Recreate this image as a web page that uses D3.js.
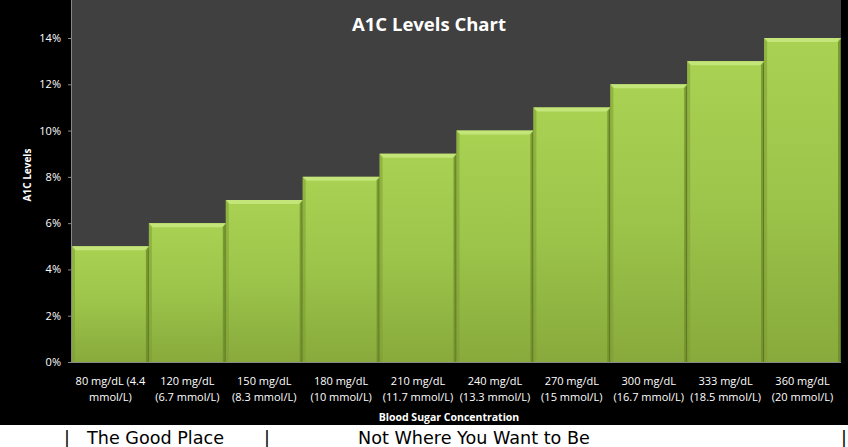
<!DOCTYPE html>
<html><head><meta charset="utf-8">
<script src="https://cdn.jsdelivr.net/npm/d3@7"></script>
<style>html,body{margin:0;padding:0;background:#000;overflow:hidden}svg{display:block}</style>
</head><body>
<script>
const categories = ["80 mg/dL (4.4 mmol/L)","120 mg/dL (6.7 mmol/L)","150 mg/dL (8.3 mmol/L)","180 mg/dL (10 mmol/L)","210 mg/dL (11.7 mmol/L)","240 mg/dL (13.3 mmol/L)","270 mg/dL (15 mmol/L)","300 mg/dL (16.7 mmol/L)","333 mg/dL (18.5 mmol/L)","360 mg/dL (20 mmol/L)"];
const labelLines = [["80 mg/dL (4.4","mmol/L)"],["120 mg/dL","(6.7 mmol/L)"],["150 mg/dL","(8.3 mmol/L)"],["180 mg/dL","(10 mmol/L)"],["210 mg/dL","(11.7 mmol/L)"],["240 mg/dL","(13.3 mmol/L)"],["270 mg/dL","(15 mmol/L)"],["300 mg/dL","(16.7 mmol/L)"],["333 mg/dL","(18.5 mmol/L)"],["360 mg/dL","(20 mmol/L)"]];
const a1cValues = [5, 6, 7, 8, 9, 10, 11, 12, 13, 14];
const yTicks = [0, 2, 4, 6, 8, 10, 12, 14];
const title = "A1C Levels Chart";
const yTitle = "A1C Levels";
const xTitle = "Blood Sugar Concentration";
const footer = [{t:"|",x:64},{t:"The Good Place",x:87},{t:"|",x:264},{t:"Not Where You Want to Be",x:358},{t:"|",x:841}];

const W = 848, H = 447;
const svg = d3.select("body").append("svg").attr("width", W).attr("height", H);
const defs = svg.append("defs");
const g1 = defs.append("linearGradient").attr("id","barG").attr("x1",0).attr("y1",0).attr("x2",0).attr("y2",1);
g1.append("stop").attr("offset","0%").attr("stop-color","#a9d253");
g1.append("stop").attr("offset","50%").attr("stop-color","#9cc44a");
g1.append("stop").attr("offset","100%").attr("stop-color","#88aa3c");

svg.append("rect").attr("width",W).attr("height",H).attr("fill","#000");
svg.append("rect").attr("x",0).attr("y",425).attr("width",W).attr("height",H-425).attr("fill","#fff");

const left = 72, right = 841, bottom = 362;
const x = d3.scaleBand().domain(categories).range([left, right]).padding(0);
const y = d3.scaleLinear().domain([0, 14]).range([bottom, 38]);

svg.append("rect").attr("x",left).attr("y",0).attr("width",right-left).attr("height",bottom).attr("fill","#404040");

// bars
const bars = svg.append("g");
categories.forEach((c,i)=>{
  const bx = x(c), bw = x.bandwidth(), by = y(a1cValues[i]), bh = bottom - by;
  const gg = bars.append("g");
  gg.append("rect").attr("x",bx).attr("y",by).attr("width",bw).attr("height",bh).attr("fill","url(#barG)");
  gg.append("path").attr("d",`M${bx},${by}L${bx+bw},${by}L${bx+bw-4},${by+4}L${bx+4},${by+4}Z`).attr("fill","#c3e57a");
  gg.append("path").attr("d",`M${bx},${by}L${bx+3},${by+4}L${bx+3},${bottom}L${bx},${bottom}Z`).attr("fill","#7d9c33").attr("opacity",0.55);
  gg.append("path").attr("d",`M${bx+bw},${by}L${bx+bw-3},${by+4}L${bx+bw-3},${bottom}L${bx+bw},${bottom}Z`).attr("fill","#6e8c2a").attr("opacity",0.8);
  gg.append("line").attr("x1",bx+bw-0.5).attr("x2",bx+bw-0.5).attr("y1",by+2).attr("y2",bottom).attr("stroke","#5c7722").attr("stroke-width",1);
});

// y axis
const yAxis = svg.append("g").attr("transform",`translate(${left},0)`)
  .call(d3.axisLeft(y).tickValues(yTicks).tickFormat(d=>d+"%").tickSize(4).tickPadding(7));
yAxis.select(".domain").attr("stroke","#888").attr("d",`M-0.5,0V${bottom+0.5}`);
yAxis.selectAll(".tick line").attr("stroke","#888");
yAxis.selectAll("text").attr("fill","#fff").attr("font-family","Open Sans, sans-serif").attr("font-size","11px");
svg.append("line").attr("x1",left-4).attr("x2",right).attr("y1",bottom+0.5).attr("y2",bottom+0.5).attr("stroke","#888");

// x labels
const xl = svg.append("g");
categories.forEach((c,i)=>{
  const t = xl.append("text").attr("x",x(c)+x.bandwidth()/2).attr("y",385).attr("text-anchor","middle")
    .attr("fill","#fff").attr("font-family","Open Sans, sans-serif").attr("font-size","11px");
  labelLines[i].forEach((ln,j)=>t.append("tspan").attr("x",x(c)+x.bandwidth()/2).attr("dy",j?15.5:0).text(ln));
});

svg.append("text").attr("x",429).attr("y",31).attr("text-anchor","middle").attr("fill","#fff")
  .attr("font-family","Open Sans, sans-serif").attr("font-weight","bold").attr("font-size","18.5px").text(title);
svg.append("text").attr("transform","translate(31,175) rotate(-90)").attr("text-anchor","middle").attr("fill","#fff")
  .attr("font-family","Open Sans, sans-serif").attr("font-weight","bold").attr("font-size","10px").text(yTitle);
svg.append("text").attr("x",449).attr("y",421).attr("text-anchor","middle").attr("fill","#fff")
  .attr("font-family","Open Sans, sans-serif").attr("font-weight","bold").attr("font-size","10.5px").text(xTitle);

footer.forEach(f=>{
  svg.append("text").attr("x",f.x).attr("y",444).attr("fill","#000")
    .attr("font-family","DejaVu Sans, sans-serif").attr("font-size","17.6px").text(f.t);
});
</script>
</body></html>
